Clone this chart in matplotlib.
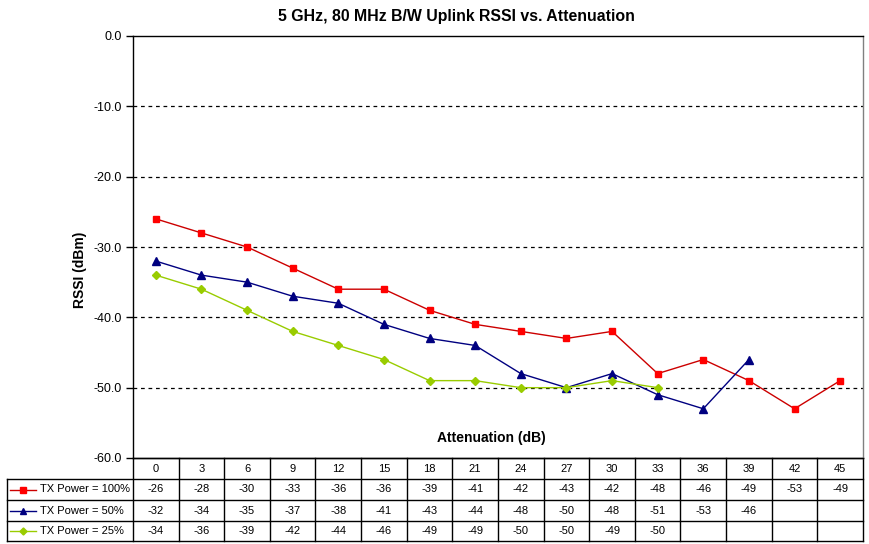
import matplotlib
matplotlib.use("Agg")
import matplotlib.pyplot as plt
import matplotlib.transforms as mtransforms
from matplotlib.lines import Line2D
import numpy as np

plt.rcParams['font.family'] = ['Liberation Sans', 'DejaVu Sans']

attenuation = [0, 3, 6, 9, 12, 15, 18, 21, 24, 27, 30, 33, 36, 39, 42, 45]
tx100 = [-26, -28, -30, -33, -36, -36, -39, -41, -42, -43, -42, -48, -46, -49, -53, -49]
tx50 = [-32, -34, -35, -37, -38, -41, -43, -44, -48, -50, -48, -51, -53, -46]
tx25 = [-34, -36, -39, -42, -44, -46, -49, -49, -50, -50, -49, -50]
series_names = ["TX Power = 100%", "TX Power = 50%", "TX Power = 25%"]
y_ticks = [0, -10, -20, -30, -40, -50, -60]

W, H = 870, 544
fig = plt.figure(figsize=(W / 100, H / 100), dpi=100)
L, R, T, B = 133, 863, 36, 458
ax = fig.add_axes([L / W, 1 - B / H, (R - L) / W, (B - T) / H])

styles = [
    dict(color='#CC0000', marker='s', mfc='#FF0000', mec='#FF0000', ms=5),
    dict(color='#000080', marker='^', mfc='#000080', mec='#000080', ms=5.5),
    dict(color='#99CC00', marker='D', mfc='#99CC00', mec='#99CC00', ms=4.2),
]
all_series = [tx100, tx50, tx25]
for vals, st in zip(all_series, styles):
    xs = np.arange(len(vals))
    ax.plot(xs, vals, lw=1.0, clip_on=False, zorder=3, **st)

ax.set_xlim(-0.5, len(attenuation) - 0.5)
ax.set_ylim(-60, 0)
ax.set_yticks(y_ticks)
ax.set_yticklabels([f"{v:.1f}" for v in y_ticks], fontsize=9)
ax.set_xticks([])
for v in y_ticks[1:-1]:
    ax.axhline(v, color='black', lw=0.9, ls=(0, (3, 3)), zorder=1)
ax.tick_params(axis='y', direction='out', length=5, width=1, pad=3)
ax.spines['left'].set_color('black')
ax.spines['top'].set_color('black')
ax.spines['bottom'].set_color('black')
ax.spines['right'].set_color('#808080')
for s in ax.spines.values():
    s.set_linewidth(1.0)

fig.text(456 / W, 1 - 17 / H, "5 GHz, 80 MHz B/W Uplink RSSI vs. Attenuation",
         ha='center', va='center', fontsize=11.4, fontweight='bold')
fig.text(491 / W, 1 - 438 / H, "Attenuation (dB)",
         ha='center', va='center', fontsize=10, fontweight='bold')
fig.text(80 / W, 1 - 270 / H, "RSSI (dBm)", rotation=90, ha='center', va='center',
         fontsize=10, fontweight='bold')

# data table
trans = mtransforms.blended_transform_factory(ax.transData, fig.transFigure)
def fy(py):
    return 1 - py / H
rows_y = [458, 479, 500, 521, 541]
n = len(attenuation)
for i in range(n + 1):
    x = i - 0.5
    ax.add_line(Line2D([x, x], [fy(rows_y[0]), fy(rows_y[-1])], transform=trans,
                       color='black', lw=1.0, clip_on=False))
ax.add_line(Line2D([-0.5, n - 0.5], [fy(rows_y[0])] * 2, transform=trans,
                   color='black', lw=1.0, clip_on=False))
for ry in rows_y[1:]:
    fig.add_artist(Line2D([7 / W, R / W], [fy(ry)] * 2, color='black', lw=1.0))
fig.add_artist(Line2D([7 / W, 7 / W], [fy(rows_y[1]), fy(rows_y[-1])], color='black', lw=1.0))

for i, a in enumerate(attenuation):
    ax.text(i, fy((rows_y[0] + rows_y[1]) / 2), str(a), transform=trans,
            ha='center', va='center', fontsize=8)
for r, (vals, st, name) in enumerate(zip(all_series, styles, series_names)):
    yc = fy((rows_y[r + 1] + rows_y[r + 2]) / 2)
    for i, v in enumerate(vals):
        ax.text(i, yc, str(v), transform=trans, ha='center', va='center', fontsize=8)
    fig.add_artist(Line2D([10 / W, 36 / W], [yc, yc], color=st['color'], lw=1.0))
    fig.add_artist(Line2D([23 / W], [yc], marker=st['marker'], mfc=st['mfc'],
                          mec=st['mec'], ms=st['ms'] * 0.85, lw=0))
    fig.text(40 / W, yc, name, ha='left', va='center', fontsize=8)

fig.savefig("out.png", dpi=100)
